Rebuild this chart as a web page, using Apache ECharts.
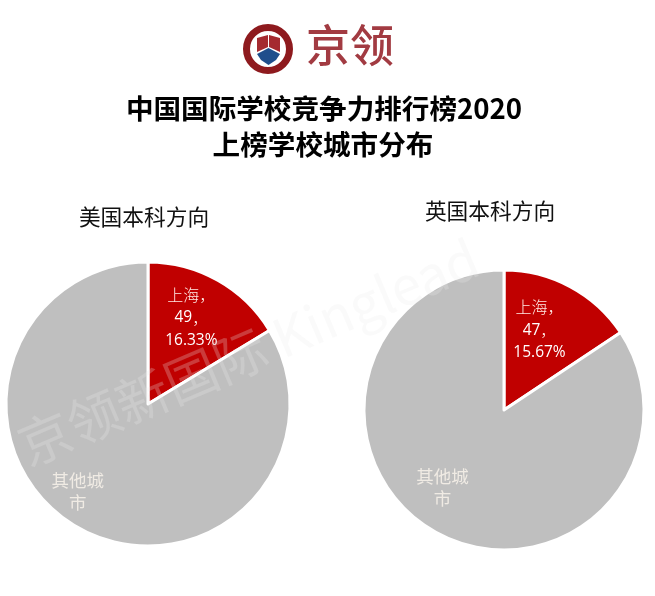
<!DOCTYPE html>
<html><head><meta charset="utf-8">
<style>html,body{margin:0;padding:0;background:#fff}#c{width:655px;height:596px}</style>
<script src="https://cdn.jsdelivr.net/npm/echarts@6/dist/echarts.min.js"></script>
</head><body><div id="c"></div>
<script>
const cities = ['上海', '其他城市'];
const usValues = [49, 251];
const ukValues = [47, 253];
const headline1 = '中国国际学校竞争力排行榜2020';
const headline2 = '上榜学校城市分布';
const usTitle = '美国本科方向';
const ukTitle = '英国本科方向';
const brand = '京领';
const watermark = '京领新国际 Kinglead';
const colors = ['#c00000', '#bfbfbf'];
const cjk = '"Noto Sans CJK SC"';

function pie(values, center, radius, shifts) {
  return {
    type: 'pie', center, radius, startAngle: 90, clockwise: true,
    percentPrecision: 2, animation: false, silent: true, z: 2,
    itemStyle: { borderColor: '#fff', borderWidth: 3 },
    labelLine: { show: false },
    labelLayout: p => shifts[p.dataIndex],
    data: cities.map((n, i) => ({
      name: n, value: values[i], itemStyle: { color: colors[i] },
      label: i === 0 ? {
        show: true, position: 'inside', color: '#fff',
        formatter: '{n|{b}，}\n{v|{c}}{n|，}\n{v|{d}%}',
        rich: {
          n: { fontFamily: cjk, fontSize: 16, lineHeight: 23, color: '#ffe9e4', fontWeight: 300 },
          v: { fontFamily: '"Open Sans"', fontSize: 15.5, lineHeight: 22, color: '#fff' }
        }
      } : {
        show: true, position: 'inside', color: '#f0ebe4', fontFamily: cjk,
        fontSize: 17.5, lineHeight: 22, width: 56, overflow: 'break', align: 'center',
        formatter: '{b}'
      }
    }))
  };
}

const title = (text, left, top, fontSize, fontWeight, color) => ({
  text, left, top, textAlign: 'center', padding: 0,
  textStyle: { fontFamily: cjk, fontSize, fontWeight, color, lineHeight: 36 }
});

const chart = echarts.init(document.getElementById('c'), null, { renderer: 'canvas' });
chart.setOption({
  backgroundColor: '#fff',
  animation: false,
  title: [
    title(headline1, 324, 91, 27.6, 'bold', '#000'),
    title(headline2, 323, 127, 27.6, 'bold', '#000'),
    title(usTitle, 144, 199, 21.7, 'normal', '#111'),
    title(ukTitle, 490, 193, 21.7, 'normal', '#111')
  ],
  series: [
    pie(usValues, [148, 404], [0, 142], [{ dx: 7, dy: -22 }, { dx: -34, dy: 23 }]),
    pie(ukValues, [504, 410], [0, 140], [{ dx: 1, dy: -16 }, { dx: -27, dy: 13 }])
  ],
  graphic: [
    { type: 'circle', z: 5, shape: { cx: 268, cy: 49, r: 21.5 }, style: { fill: '#fff', stroke: '#8e1a1e', lineWidth: 7 } },
    { type: 'polygon', z: 6, shape: { points: [[257,38],[268,35],[268,47],[257,52]] }, style: { fill: '#a52a30' } },
    { type: 'polygon', z: 6, shape: { points: [[269,35],[280,38],[280,52],[269,47]] }, style: { fill: '#a52a30' } },
    { type: 'polygon', z: 6, shape: { points: [[257,54],[268.5,48],[280,54],[276,60],[268.5,65],[261,60]] }, style: { fill: '#1f4e8c' } },
    { type: 'text', z: 6, left: 306, top: 23, style: { text: brand, fontFamily: cjk, fontSize: 44, fontWeight: 500, fill: '#a23b42' } },
    { type: 'text', z: 20, silent: true, x: 248, y: 352, rotation: 23 * Math.PI / 180,
      style: { text: watermark, fontFamily: cjk, fontSize: 53, fontWeight: 400, fill: 'rgba(235,235,235,0.25)', align: 'center', verticalAlign: 'middle' } }
  ]
});
</script></body></html>
